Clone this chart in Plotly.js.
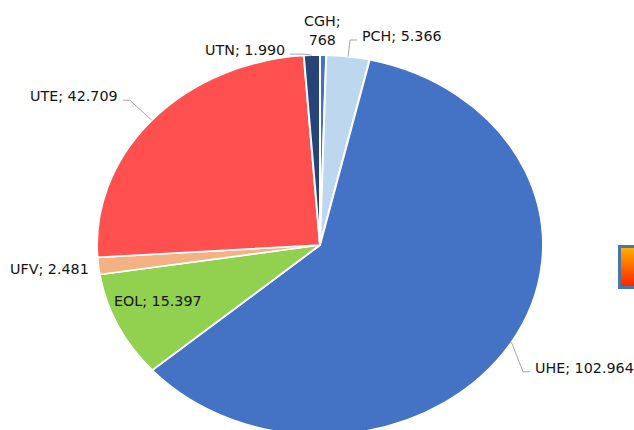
<!DOCTYPE html>
<html><head><meta charset="utf-8">
<script src="https://cdn.plot.ly/plotly-3.0.1.min.js"></script>
<style>
html,body{margin:0;padding:0;overflow:hidden;background:#fff}
#wrap{width:634px;height:430px;overflow:hidden;position:relative}
#chart{width:634px;height:500px}
</style></head>
<body><div id="wrap"><div id="chart"></div></div>
<script>
// ---- data ----
const categories = ['CGH', 'PCH', 'UHE', 'EOL', 'UFV', 'UTE', 'UTN'];
const values = [768, 5366, 102964, 15397, 2481, 42709, 1990];
const colors = ['#4472C4', '#BDD7EE', '#4472C4', '#92D050', '#F4B183', '#FF5050', '#264478'];

// ---- geometry / style (px) ----
const W = 634, H = 500, CX = 320, CY = 245, RX = 223, RY = 190;
const SY = RY / RX;
const FONT = {family: 'DejaVu Sans, Verdana, sans-serif', size: 14.3, color: '#141414'};
const LINE = {color: '#A6A6A6', width: 1};
const GAP = 3;

// label placement per category
const labelSpec = {
  CGH: {mode: 'free', dx: -1, dy: -25, xanchor: 'center', wrap: true},
  PCH: {mode: 'leader', ex: 2, ey: -16.5, h: 7},
  UHE: {mode: 'leader', ex: 11.5, ey: 29.4, h: 7},
  EOL: {mode: 'inside', k: 0.8, dy: -8},
  UFV: {mode: 'free', dx: -7, dy: 3, xanchor: 'right'},
  UTE: {mode: 'leader', ex: -22, ey: -20, h: -7},
  UTN: {mode: 'leader', ex: -9, ey: -1, h: -13}
};

function fmt(v) { return String(v).replace(/\B(?=(\d{3})+(?!\d))/g, '.'); }
const px = x => x / W;
const py = y => 1 - y / H;

const total = values.reduce((a, b) => a + b, 0);
const annotations = [], shapes = [];
let cum = 0;
categories.forEach((c, i) => {
  const mid = (cum + values[i] / 2) / total * 2 * Math.PI;
  cum += values[i];
  const s = Math.sin(mid), co = Math.cos(mid);
  const ax = CX + RX * s, ay = CY - RY * co;
  const spec = labelSpec[c];
  let text = c + '; ' + fmt(values[i]);
  if (spec.mode === 'leader') {
    const exx = ax + spec.ex, eyy = ay + spec.ey;
    const hx = exx + spec.h;
    shapes.push({type: 'path', xref: 'paper', yref: 'paper',
      path: `M ${px(ax)} ${py(ay)} L ${px(exx)} ${py(eyy)} L ${px(hx)} ${py(eyy)}`,
      line: LINE});
    const tx = hx + (spec.h > 0 ? GAP : -GAP);
    annotations.push({text, x: px(tx), y: py(eyy - 4), xref: 'paper', yref: 'paper',
      xanchor: spec.h > 0 ? 'left' : 'right', yanchor: 'middle', showarrow: false, font: FONT});
  } else if (spec.mode === 'inside') {
    const tx = CX + RX * spec.k * s, ty = CY - RY * spec.k * co + spec.dy;
    annotations.push({text, x: px(tx), y: py(ty), xref: 'paper', yref: 'paper',
      xanchor: 'center', yanchor: 'middle', showarrow: false, font: FONT});
  } else {
    if (spec.wrap) text = c + ';<br>' + fmt(values[i]);
    annotations.push({text, x: px(ax + spec.dx), y: py(ay + spec.dy), xref: 'paper', yref: 'paper',
      xanchor: spec.xanchor, yanchor: 'middle', showarrow: false, font: FONT, align: 'center'});
  }
});

const iconSvg = '<svg xmlns="http://www.w3.org/2000/svg" width="24" height="44" viewBox="0 0 24 44">' +
  '<defs><linearGradient id="g" x1="0" y1="0" x2="0" y2="1">' +
  '<stop offset="0" stop-color="#FFB400"/><stop offset="1" stop-color="#FF1E00"/></linearGradient></defs>' +
  '<rect x="1.5" y="1.5" width="30" height="41" fill="url(#g)" stroke="#4A76A6" stroke-width="3"/></svg>';

const trace = {
  type: 'pie', labels: categories, values: values, sort: false,
  direction: 'clockwise', rotation: 0,
  marker: {colors: colors, line: {color: '#FFFFFF', width: 2}},
  textinfo: 'none', hoverinfo: 'none', showlegend: false,
  domain: {x: [(CX - RX) / W, (CX + RX) / W], y: [1 - (CY + RX) / H, 1 - (CY - RX) / H]}
};

const layout = {
  width: W, height: H, margin: {l: 0, r: 0, t: 0, b: 0},
  paper_bgcolor: '#FFFFFF', showlegend: false,
  annotations, shapes,
  images: [{source: 'data:image/svg+xml;charset=utf-8,' + encodeURIComponent(iconSvg),
    xref: 'paper', yref: 'paper', x: px(618), y: py(245), sizex: 24 / W, sizey: 44 / H,
    xanchor: 'left', yanchor: 'top', sizing: 'stretch', layer: 'above'}]
};

Plotly.newPlot('chart', [trace], layout, {staticPlot: true, displayModeBar: false}).then(() => {
  const g = document.querySelector('#chart .pielayer');
  if (g) g.setAttribute('transform', `matrix(1,0,0,${SY},0,${CY * (1 - SY)})`);
});
</script>
</body></html>
